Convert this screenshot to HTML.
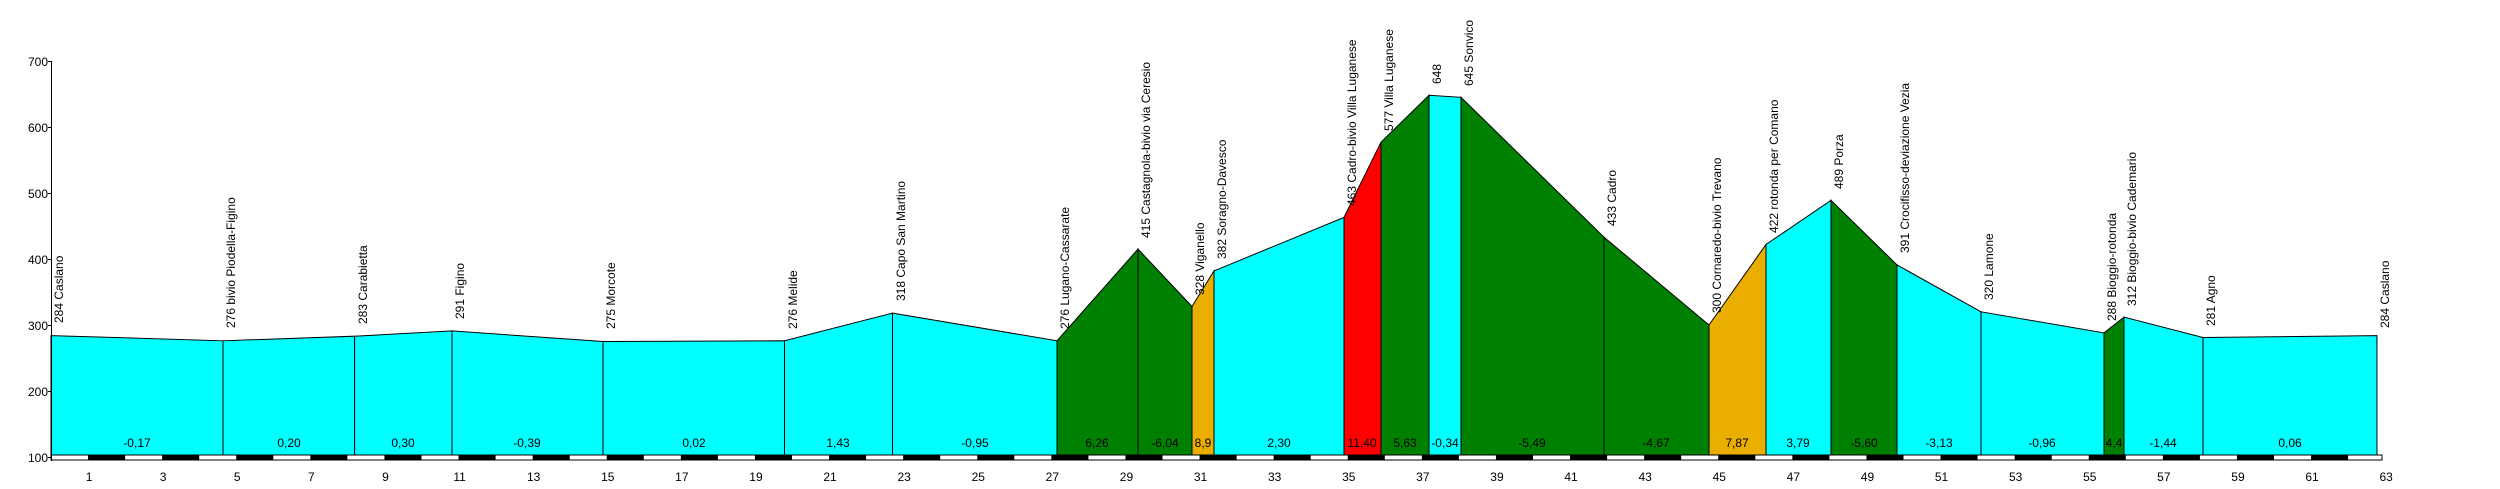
<!DOCTYPE html>
<html><head><meta charset="utf-8"><style>
html,body{margin:0;padding:0;background:#fff;}
svg{display:block;font-family:"Liberation Sans",Arial,sans-serif;}
</style></head><body>
<svg width="2500" height="489" viewBox="0 0 2500 489" xmlns="http://www.w3.org/2000/svg">
<g stroke="#000" stroke-width="1">
<polygon fill="#00FFFF" points="51,455 51,335.6 223,340.8 223,455"/>
<polygon fill="#00FFFF" points="223,455 223,340.8 354.6,336.2 354.6,455"/>
<polygon fill="#00FFFF" points="354.6,455 354.6,336.2 452,330.9 452,455"/>
<polygon fill="#00FFFF" points="452,455 452,330.9 603,341.5 603,455"/>
<polygon fill="#00FFFF" points="603,455 603,341.5 784.5,340.8 784.5,455"/>
<polygon fill="#00FFFF" points="784.5,455 784.5,340.8 892.5,313.1 892.5,455"/>
<polygon fill="#00FFFF" points="892.5,455 892.5,313.1 1057,340.8 1057,455"/>
<polygon fill="#008000" points="1057,455 1057,340.8 1138,249.1 1138,455"/>
<polygon fill="#008000" points="1138,455 1138,249.1 1192,306.5 1192,455"/>
<polygon fill="#EAAE00" points="1192,455 1192,306.5 1214,270.9 1214,455"/>
<polygon fill="#00FFFF" points="1214,455 1214,270.9 1344,217.4 1344,455"/>
<polygon fill="#FF0000" points="1344,455 1344,217.4 1381,142.2 1381,455"/>
<polygon fill="#008000" points="1381,455 1381,142.2 1429,95.3 1429,455"/>
<polygon fill="#00FFFF" points="1429,455 1429,95.3 1461,97.3 1461,455"/>
<polygon fill="#008000" points="1461,455 1461,97.3 1604,237.2 1604,455"/>
<polygon fill="#008000" points="1604,455 1604,237.2 1709,325 1709,455"/>
<polygon fill="#EAAE00" points="1709,455 1709,325 1766,244.5 1766,455"/>
<polygon fill="#00FFFF" points="1766,455 1766,244.5 1831,200.3 1831,455"/>
<polygon fill="#008000" points="1831,455 1831,200.3 1897,264.9 1897,455"/>
<polygon fill="#00FFFF" points="1897,455 1897,264.9 1981,311.8 1981,455"/>
<polygon fill="#00FFFF" points="1981,455 1981,311.8 2104,332.9 2104,455"/>
<polygon fill="#008000" points="2104,455 2104,332.9 2124,317.1 2124,455"/>
<polygon fill="#00FFFF" points="2124,455 2124,317.1 2203,337.5 2203,455"/>
<polygon fill="#00FFFF" points="2203,455 2203,337.5 2377,335.6 2377,455"/>
</g>
<!-- km bar -->
<rect x="51" y="455" width="2331" height="5" fill="#fff" stroke="#000" stroke-width="1"/>
<g fill="#000" id="bar"></g>
<!-- axis -->
<line x1="51.5" y1="61" x2="51.5" y2="461" stroke="#000"/>
<g stroke="#000">
<line x1="48" y1="61.5" x2="51" y2="61.5"/><line x1="48" y1="127.5" x2="51" y2="127.5"/><line x1="48" y1="193.5" x2="51" y2="193.5"/><line x1="48" y1="259.5" x2="51" y2="259.5"/><line x1="48" y1="325.5" x2="51" y2="325.5"/><line x1="48" y1="391.5" x2="51" y2="391.5"/><line x1="48" y1="457.5" x2="51" y2="457.5"/>
</g>
<g font-size="12" text-anchor="end" fill="#000">
<text x="48" y="66">700</text><text x="48" y="132">600</text><text x="48" y="198">500</text><text x="48" y="264">400</text><text x="48" y="330">300</text><text x="48" y="396">200</text><text x="48" y="462">100</text>
</g>
<g font-size="12" text-anchor="middle" fill="#000" id="xl"></g>
<!-- gradients -->
<g font-size="12" text-anchor="middle" fill="#000">
<text x="137" y="447">-0,17</text><text x="289" y="447">0,20</text><text x="403" y="447">0,30</text><text x="527" y="447">-0,39</text><text x="694" y="447">0,02</text><text x="838" y="447">1,43</text><text x="975" y="447">-0,95</text><text x="1097" y="447">6,26</text><text x="1165" y="447">-6,04</text><text x="1203" y="447">8,9</text><text x="1279" y="447">2,30</text><text x="1362" y="447">11,40</text><text x="1405" y="447">5,63</text><text x="1445" y="447">-0,34</text><text x="1532" y="447">-5,49</text><text x="1656" y="447">-4,67</text><text x="1737" y="447">7,87</text><text x="1798" y="447">3,79</text><text x="1864" y="447">-5,60</text><text x="1939" y="447">-3,13</text><text x="2042" y="447">-0,96</text><text x="2114" y="447">4,4</text><text x="2163" y="447">-1,44</text><text x="2290" y="447">0,06</text>
</g>
<!-- station labels -->
<g font-size="12" fill="#000">
<text transform="translate(63,323) rotate(-90)">284 Caslano</text>
<text transform="translate(235,328) rotate(-90)">276 bivio Piodella-Figino</text>
<text transform="translate(367,324) rotate(-90)">283 Carabietta</text>
<text transform="translate(464,319) rotate(-90)">291 Figino</text>
<text transform="translate(615,329) rotate(-90)">275 Morcote</text>
<text transform="translate(797,329) rotate(-90)">276 Melide</text>
<text transform="translate(905,301) rotate(-90)">318 Capo San Martino</text>
<text transform="translate(1069,329) rotate(-90)">276 Lugano-Cassarate</text>
<text transform="translate(1150,238) rotate(-90)">415 Castagnola-bivio via Ceresio</text>
<text transform="translate(1204,295) rotate(-90)">328 Viganello</text>
<text transform="translate(1226,259) rotate(-90)">382 Soragno-Davesco</text>
<text transform="translate(1356,206) rotate(-90)">463 Cadro-bivio Villa Luganese</text>
<text transform="translate(1393,131) rotate(-90)">577 Villa Luganese</text>
<text transform="translate(1441,84) rotate(-90)">648</text>
<text transform="translate(1473,86) rotate(-90)">645 Sonvico</text>
<text transform="translate(1616,226) rotate(-90)">433 Cadro</text>
<text transform="translate(1721,313) rotate(-90)">300 Cornaredo-bivio Trevano</text>
<text transform="translate(1778,233) rotate(-90)">422 rotonda per Comano</text>
<text transform="translate(1843,189) rotate(-90)">489 Porza</text>
<text transform="translate(1909,253) rotate(-90)">391 Crocifisso-deviazione Vezia</text>
<text transform="translate(1993,300) rotate(-90)">320 Lamone</text>
<text transform="translate(2116,321) rotate(-90)">288 Bioggio-rotonda</text>
<text transform="translate(2136,306) rotate(-90)">312 Bioggio-bivio Cademario</text>
<text transform="translate(2215,326) rotate(-90)">281  Agno</text>
<text transform="translate(2389,328) rotate(-90)">284 Caslano</text>
</g>
<script>
(function(){
var ns="http://www.w3.org/2000/svg",b=document.getElementById("bar"),xl=document.getElementById("xl");
var w=37.05;
for(var k=1;k<63;k+=2){var r=document.createElementNS(ns,"rect");var x0=51+k*w;var x1=Math.min(x0+w,2382);r.setAttribute("x",x0);r.setAttribute("y",455);r.setAttribute("width",x1-x0);r.setAttribute("height",5);b.appendChild(r);}
for(var k=1;k<=63;k+=2){var t=document.createElementNS(ns,"text");t.setAttribute("x",52+k*w);t.setAttribute("y",481);t.textContent=k;xl.appendChild(t);}
})();
</script>
</svg>
</body></html>
